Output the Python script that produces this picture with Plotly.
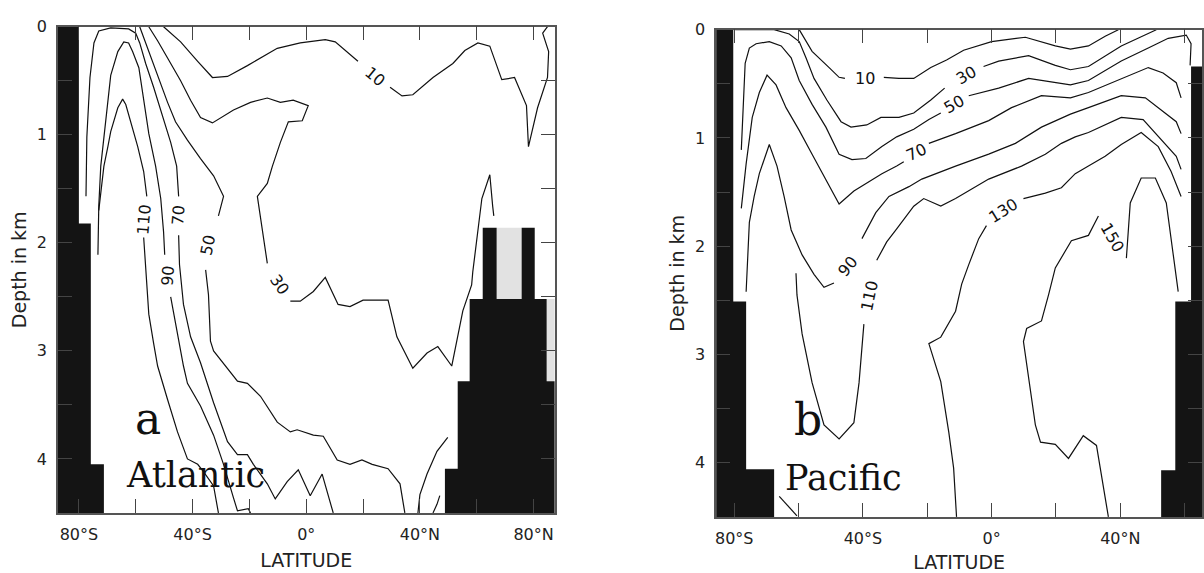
import plotly.graph_objects as go

# ---------------- Atlantic (panel a) ----------------
ATL_110_LAT = [-73.0, -72.3, -71.2, -69.8, -68.8, -66.3, -64.6, -63.5, -61.8, -59.3, -57.2, -56.1, None,
               -57.2, -56.5, -55.4, -53.7, -52.3, -48.8, -45.3, -41.8, -38.2, -36.1, -32.6, -30.9]
ATL_110_DEP = [1.70, 1.52, 1.29, 1.11, 0.97, 0.75, 0.67, 0.72, 0.88, 1.11, 1.34, 1.57, None,
               1.95, 2.20, 2.66, 2.93, 3.14, 3.45, 3.75, 4.00, 4.05, 4.12, 4.25, 4.5]
ATL_90_LAT = [-73.3, -73.0, -72.3, -70.9, -68.8, -66.3, -64.2, -62.5, -61.1, -58.9, -57.2, -55.4, -53.0, -51.2,
              -50.2, -49.8, None, -47.7, -45.3, -43.2, -41.8, -37.2, -32.6, -29.1, -25.6, -24.2, -20.4, -19.6]
ATL_90_DEP = [2.11, 1.66, 1.29, 0.93, 0.45, 0.23, 0.14, 0.15, 0.23, 0.38, 0.68, 0.99, 1.29, 1.59,
              1.90, 2.11, None, 2.50, 2.84, 3.14, 3.30, 3.51, 3.78, 4.05, 4.36, 4.48, 4.46, 4.5]
ATL_70_LAT = [-77.5, -77.2, -76.1, -74.7, -73.0, -68.8, -62.5, -60.0, -58.6, -56.5, -53.7, -50.5, -47.7, -45.6,
              -44.9, None, -44.9, -44.6, -43.2, -40.7, -37.2, -32.6, -27.7, -24.2, -20.7, -18.6, -13.7, -10.9,
              -6.7, -2.8, 1.4, 5.6, 9.5, None, 44.6, 46.0, 47.0]
ATL_70_DEP = [1.57, 1.02, 0.47, 0.15, 0.04, 0.01, 0.02, 0.06, 0.15, 0.34, 0.56, 0.84, 1.07, 1.29,
              1.57, None, 1.93, 2.20, 2.57, 2.87, 3.11, 3.48, 3.84, 3.96, 3.96, 4.05, 4.23, 4.37,
              4.21, 4.10, 4.34, 4.14, 4.5, None, 4.5, 4.42, 4.34]
ATL_50_LAT = [-58.6, -55.8, -52.3, -48.8, -46.0, -41.8, -37.2, -32.6, -29.1, -30.9, None,
              -35.4, -34.4, -33.7, -32.6, -24.2, -20.7, -16.1, -10.2, -5.6, -3.2, 2.5, 6.0, 10.9, 15.4,
              19.6, 23.2, 28.8, 33.0, 34.7, None, 39.3, 40.0, 42.5, 46.0, 49.8]
ATL_50_DEP = [0.0, 0.20, 0.45, 0.70, 0.88, 1.05, 1.22, 1.38, 1.57, 1.75, None,
              2.25, 2.48, 2.91, 3.00, 3.28, 3.30, 3.42, 3.66, 3.75, 3.73, 3.78, 3.79, 4.01, 4.05,
              4.01, 4.05, 4.09, 4.23, 4.5, None, 4.5, 4.33, 4.14, 3.93, 3.80]
ATL_30_LAT = [-55.4, -52.3, -48.8, -44.2, -40.7, -37.2, -33.0, -25.6, -19.6, -13.7, -9.1, -4.6, 0.7, -1.4,
              -6.3, -9.1, -11.9, -13.7, -17.2, -15.4, -13.7, None, -5.6, -2.1, 2.5, 6.7, 11.2, 15.4, 20.0,
              28.8, 31.9, 37.5, 42.5, 46.3, 51.2, 55.1, 58.2, 58.6, 61.8, 64.6, 65.6, 66.0]
ATL_30_DEP = [0.0, 0.13, 0.29, 0.50, 0.68, 0.84, 0.89, 0.77, 0.70, 0.66, 0.70, 0.68, 0.73, 0.87,
              0.88, 1.07, 1.29, 1.45, 1.57, 1.89, 2.19, None, 2.54, 2.54, 2.45, 2.32, 2.57, 2.59, 2.53,
              2.53, 2.87, 3.16, 3.02, 2.96, 3.14, 2.63, 2.39, 2.27, 1.59, 1.37, 1.66, 1.75]
ATL_10_LAT = [-50.2, -44.2, -38.2, -33.0, -27.7, -20.7, -10.2, -2.1, 6.7, 10.2, 18.2, None,
              29.5, 33.7, 37.5, 44.6, 51.6, 55.8, 60.4, 64.6, 68.8, 73.3, 77.5, 78.2, 81.4, 84.9, 85.3, 83.2, 84.9]
ATL_10_DEP = [0.0, 0.14, 0.32, 0.47, 0.46, 0.36, 0.20, 0.15, 0.12, 0.14, 0.32, None,
              0.56, 0.64, 0.63, 0.47, 0.34, 0.22, 0.15, 0.18, 0.49, 0.47, 0.73, 1.11, 0.75, 0.47, 0.23, 0.06, 0.0]

ATL_LABELS = ["110", "90", "70", "50", "30", "10"]
ATL_LABEL_LAT = [-57.2, -48.8, -44.9, -34.4, -9.5, 24.2]
ATL_LABEL_DEP = [1.78, 2.31, 1.75, 2.02, 2.39, 0.46]
ATL_LABEL_ANG = [-85, -85, -85, -78, 55, 40]

# topography blocks (black) : west lat, east lat, top depth, bottom depth
ATL_LAND_LAT0 = [-95, -95, -95, 62.1, 75.8, 57.5, 53.3, 48.8]
ATL_LAND_LAT1 = [-80.0, -75.8, -71.2, 67.0, 80.4, 84.6, 95, 95]
ATL_LAND_TOP = [0.0, 1.82, 4.05, 1.86, 1.86, 2.52, 3.28, 4.09]
ATL_LAND_BOT = [1.82, 4.05, 4.5, 2.52, 2.52, 3.28, 4.09, 4.5]
# light stippled areas
ATL_GREY_LAT0 = [67.0, 84.6]
ATL_GREY_LAT1 = [75.8, 95]
ATL_GREY_TOP = [1.86, 2.52]
ATL_GREY_BOT = [2.52, 3.28]

# ---------------- Pacific (panel b) ----------------
PAC_10_LAT = [-59.8, -55.8, -50.5, -47.4, -45.6, None, -33.5, -28.8, -24.2, -18.9, -14.0, -8.7, 0.0, 10.5,
              19.8, 24.5, 30.1, 35.3, 39.4]
PAC_10_DEP = [0.0, 0.20, 0.35, 0.44, 0.45, None, 0.44, 0.45, 0.45, 0.35, 0.28, 0.19, 0.11, 0.07,
              0.15, 0.18, 0.15, 0.06, 0.0]
PAC_30_LAT = [-79.7, -67.6, -62.9, -59.8, -57.7, -55.2, -51.2, -46.8, -43.7, -38.8, -34.4, -28.8, -24.2,
              -18.9, -14.6, None, -2.5, 2.2, 11.5, 19.8, 24.5, 30.1, 40.3, 48.7, 51.2]
PAC_30_DEP = [0.0, 0.0, 0.04, 0.11, 0.26, 0.45, 0.65, 0.85, 0.90, 0.88, 0.81, 0.81, 0.77,
              0.65, 0.54, None, 0.34, 0.29, 0.24, 0.33, 0.37, 0.34, 0.15, 0.04, 0.0]
PAC_50_LAT = [-77.8, -77.2, -76.6, -75.3, -73.2, -69.1, -65.4, -62.3, -59.8, -55.8, -51.5, -47.4, -43.4,
              -39.1, -34.1, -29.5, -24.2, -19.5, -15.8, None, -7.1, 2.2, 11.5, 19.8, 24.5, 30.1, 40.3,
              48.7, 54.9, 60.5, 62.0, 61.7]
PAC_50_DEP = [1.11, 0.72, 0.31, 0.17, 0.13, 0.11, 0.15, 0.26, 0.47, 0.69, 0.90, 1.15, 1.20,
              1.19, 1.08, 0.99, 0.92, 0.83, 0.77, None, 0.61, 0.54, 0.45, 0.49, 0.51, 0.47, 0.29,
              0.17, 0.08, 0.05, 0.13, 0.33]
PAC_70_LAT = [-77.8, -76.3, -74.4, -72.2, -69.8, -67.0, -63.9, -59.8, -55.8, -51.5, -47.4, -42.8, -39.1,
              -34.1, -29.5, -27.3, None, -19.5, -11.2, -0.9, 6.2, 15.5, 24.5, 30.1, 40.3, 48.7, 53.3,
              57.4, 58.9]
PAC_70_DEP = [1.65, 1.24, 0.81, 0.58, 0.42, 0.51, 0.72, 0.93, 1.15, 1.38, 1.61, 1.49, 1.42,
              1.33, 1.26, 1.22, None, 1.05, 0.96, 0.84, 0.72, 0.61, 0.63, 0.58, 0.45, 0.35, 0.40,
              0.49, 0.63]
PAC_90_LAT = [-76.3, -75.3, -73.8, -72.2, -69.1, -66.7, -64.5, -62.3, -58.9, -55.2, -52.1, -49.0, None,
              -40.3, -36.0, -31.9, -25.7, -21.7, -11.2, -0.9, 7.4, 15.5, 24.5, 30.1, 40.3, 47.8, 53.3,
              57.4, 58.9]
PAC_90_DEP = [2.42, 1.78, 1.54, 1.33, 1.06, 1.26, 1.54, 1.85, 2.08, 2.26, 2.38, 2.34, None,
              1.93, 1.69, 1.54, 1.45, 1.38, 1.26, 1.15, 1.05, 0.90, 0.78, 0.72, 0.61, 0.63, 0.76,
              0.85, 0.96]
PAC_110_LAT = [-60.8, -60.5, -58.9, -55.8, -52.1, -47.4, -42.8, -41.2, -39.7, None, -35.7, -32.6, -29.5,
               -24.2, -21.1, -15.8, -11.2, -0.9, 9.3, 16.7, 21.7, 26.0, 30.1, 40.3, 47.1, 53.3, 57.4, 58.9]
PAC_110_DEP = [2.25, 2.45, 2.81, 3.26, 3.65, 3.78, 3.63, 3.26, 2.72, None, 2.13, 1.96, 1.84,
               1.63, 1.56, 1.63, 1.56, 1.38, 1.26, 1.15, 1.05, 0.99, 0.95, 0.81, 0.83, 1.04, 1.17, 1.29]
PAC_130_LAT = [-10.9, -11.8, -13.3, -15.8, -19.5, -15.8, -11.2, -9.3, -7.1, -4.0, -1.6, None,
               9.9, 16.7, 21.7, 26.0, 30.1, 35.3, 40.3, 46.5, 51.8, 55.8, 58.9]
PAC_130_DEP = [4.5, 4.05, 3.72, 3.25, 2.90, 2.84, 2.60, 2.35, 2.17, 1.93, 1.81, None,
               1.56, 1.51, 1.46, 1.33, 1.26, 1.17, 1.06, 0.95, 1.08, 1.31, 1.54]
PAC_150_LAT = [36.3, 32.6, 28.5, 23.9, 19.8, 15.2, 13.6, 9.9, 10.9, 15.5, 17.7, 19.8, 24.8, 30.1, 33.2, None,
               41.9, 43.1, 46.5, 50.9, 54.3, 58.0, None, -66.0, -60.5]
PAC_150_DEP = [4.5, 3.84, 3.75, 3.96, 3.83, 3.81, 3.65, 2.88, 2.76, 2.69, 2.45, 2.20, 1.95, 1.90, 1.72, None,
               2.11, 1.60, 1.37, 1.37, 1.60, 2.42, None, 4.31, 4.49]

PAC_LABELS = ["10", "30", "50", "70", "90", "110", "130", "150"]
PAC_LABEL_LAT = [-39.4, -8.1, -11.8, -23.6, -44.7, -38.1, 3.7, 37.5]
PAC_LABEL_DEP = [0.45, 0.42, 0.69, 1.13, 2.19, 2.46, 1.67, 1.92]
PAC_LABEL_ANG = [0, -30, -30, -25, -50, -78, -32, 60]

PAC_LAND_LAT0 = [-95, -95, -95, 62.0, 57.1, 52.7]
PAC_LAND_LAT1 = [-80.3, -76.3, -67.6, 95, 95, 95]
PAC_LAND_TOP = [0.0, 2.51, 4.06, 0.34, 2.51, 4.07]
PAC_LAND_BOT = [2.51, 4.06, 4.5, 2.51, 4.07, 4.5]

LAT_TICKS_A = [-80, -60, -40, -20, 0, 20, 40, 60, 80]
LAT_TEXT_A = ["80°S", "", "40°S", "", "0°", "", "40°N", "", "80°N"]
LAT_TICKS_B = [-80, -60, -40, -20, 0, 20, 40, 60]
LAT_TEXT_B = ["80°S", "", "40°S", "", "0°", "", "40°N", ""]
DEP_TICKS = [0, 0.5, 1, 1.5, 2, 2.5, 3, 3.5, 4, 4.5]
DEP_TEXT = ["0", "", "1", "", "2", "", "3", "", "4", ""]

W, H = 1204, 573
fig = go.Figure()


def blocks(lat0, lat1, top, bot):
    xs, ys = [], []
    for a, b, t, u in zip(lat0, lat1, top, bot):
        xs += [a, b, b, a, a, None]
        ys += [t, t, u, u, t, None]
    return xs, ys


def add_lines(lats, deps, xa, ya):
    fig.add_trace(go.Scatter(x=lats, y=deps, mode="lines", xaxis=xa, yaxis=ya,
                             line=dict(color="#111111", width=1.2), hoverinfo="skip",
                             showlegend=False, connectgaps=False))


def add_fill(lat0, lat1, top, bot, xa, ya, color):
    xs, ys = blocks(lat0, lat1, top, bot)
    fig.add_trace(go.Scatter(x=xs, y=ys, mode="lines", fill="toself", fillcolor=color,
                             line=dict(color=color, width=0), xaxis=xa, yaxis=ya,
                             hoverinfo="skip", showlegend=False))


for la, de in [(ATL_110_LAT, ATL_110_DEP), (ATL_90_LAT, ATL_90_DEP), (ATL_70_LAT, ATL_70_DEP),
               (ATL_50_LAT, ATL_50_DEP), (ATL_30_LAT, ATL_30_DEP), (ATL_10_LAT, ATL_10_DEP)]:
    add_lines(la, de, "x", "y")
add_fill(ATL_GREY_LAT0, ATL_GREY_LAT1, ATL_GREY_TOP, ATL_GREY_BOT, "x", "y", "#e2e2e2")
add_fill(ATL_LAND_LAT0, ATL_LAND_LAT1, ATL_LAND_TOP, ATL_LAND_BOT, "x", "y", "#141414")

for la, de in [(PAC_10_LAT, PAC_10_DEP), (PAC_30_LAT, PAC_30_DEP), (PAC_50_LAT, PAC_50_DEP),
               (PAC_70_LAT, PAC_70_DEP), (PAC_90_LAT, PAC_90_DEP), (PAC_110_LAT, PAC_110_DEP),
               (PAC_130_LAT, PAC_130_DEP), (PAC_150_LAT, PAC_150_DEP)]:
    add_lines(la, de, "x2", "y2")
add_fill(PAC_LAND_LAT0, PAC_LAND_LAT1, PAC_LAND_TOP, PAC_LAND_BOT, "x2", "y2", "#141414")

ann = []
for t, x, y, a in zip(ATL_LABELS, ATL_LABEL_LAT, ATL_LABEL_DEP, ATL_LABEL_ANG):
    ann.append(dict(text=t, x=x, y=y, xref="x", yref="y", textangle=a, showarrow=False,
                    font=dict(family="DejaVu Sans", size=16, color="#111")))
for t, x, y, a in zip(PAC_LABELS, PAC_LABEL_LAT, PAC_LABEL_DEP, PAC_LABEL_ANG):
    ann.append(dict(text=t, x=x, y=y, xref="x2", yref="y2", textangle=a, showarrow=False,
                    font=dict(family="DejaVu Sans", size=16, color="#111")))

serif = "DejaVu Serif"
ann += [
    dict(text="a", x=-55.8, y=3.63, xref="x", yref="y", showarrow=False,
         font=dict(family=serif, size=44, color="#111")),
    dict(text="Atlantic", x=-38.9, y=4.15, xref="x", yref="y", showarrow=False,
         font=dict(family=serif, size=35, color="#111")),
    dict(text="b", x=-57.1, y=3.60, xref="x2", yref="y2", showarrow=False,
         font=dict(family=serif, size=44, color="#111")),
    dict(text="Pacific", x=-46.0, y=4.14, xref="x2", yref="y2", showarrow=False,
         font=dict(family=serif, size=35, color="#111")),
]

tickfont = dict(family="DejaVu Sans", size=16, color="#222")
titlefont = dict(family="DejaVu Sans", size=19, color="#222")
common_x = dict(ticks="inside", ticklen=14, tickwidth=1, tickcolor="#444", showline=True,
                linecolor="#555", linewidth=1.5, mirror="ticks", showgrid=False, zeroline=False,
                tickmode="array", tickfont=tickfont, ticklabelstandoff=6)
common_y = dict(ticks="inside", ticklen=14, tickwidth=1, tickcolor="#444", showline=True,
                linecolor="#555", linewidth=1.5, mirror="ticks", showgrid=False, zeroline=False,
                tickmode="array", tickvals=DEP_TICKS, ticktext=DEP_TEXT, tickfont=tickfont,
                ticklabelstandoff=6, range=[4.5, 0])

fig.update_layout(
    width=W, height=H, margin=dict(l=0, r=0, t=0, b=0),
    paper_bgcolor="white", plot_bgcolor="white", showlegend=False,
    xaxis=dict(domain=[57 / W, 555 / W], range=[-87.4, 87.4], tickvals=LAT_TICKS_A, ticktext=LAT_TEXT_A,
               anchor="y", title=dict(text="LATITUDE", font=titlefont, standoff=11), **common_x),
    yaxis=dict(domain=[1 - 512 / H, 1 - 18 / H], anchor="x",
               title=dict(text="Depth in km", font=titlefont, standoff=5), **common_y),
    xaxis2=dict(domain=[717 / W, 1.0], range=[-85.6, 65.4], tickvals=LAT_TICKS_B, ticktext=LAT_TEXT_B,
                anchor="y2", title=dict(text="LATITUDE", font=titlefont, standoff=11), **common_x),
    yaxis2=dict(domain=[1 - 516 / H, 1 - 21 / H], anchor="x2",
                title=dict(text="Depth in km", font=titlefont, standoff=5), **common_y),
    annotations=ann,
)

fig.write_html("out.html")
